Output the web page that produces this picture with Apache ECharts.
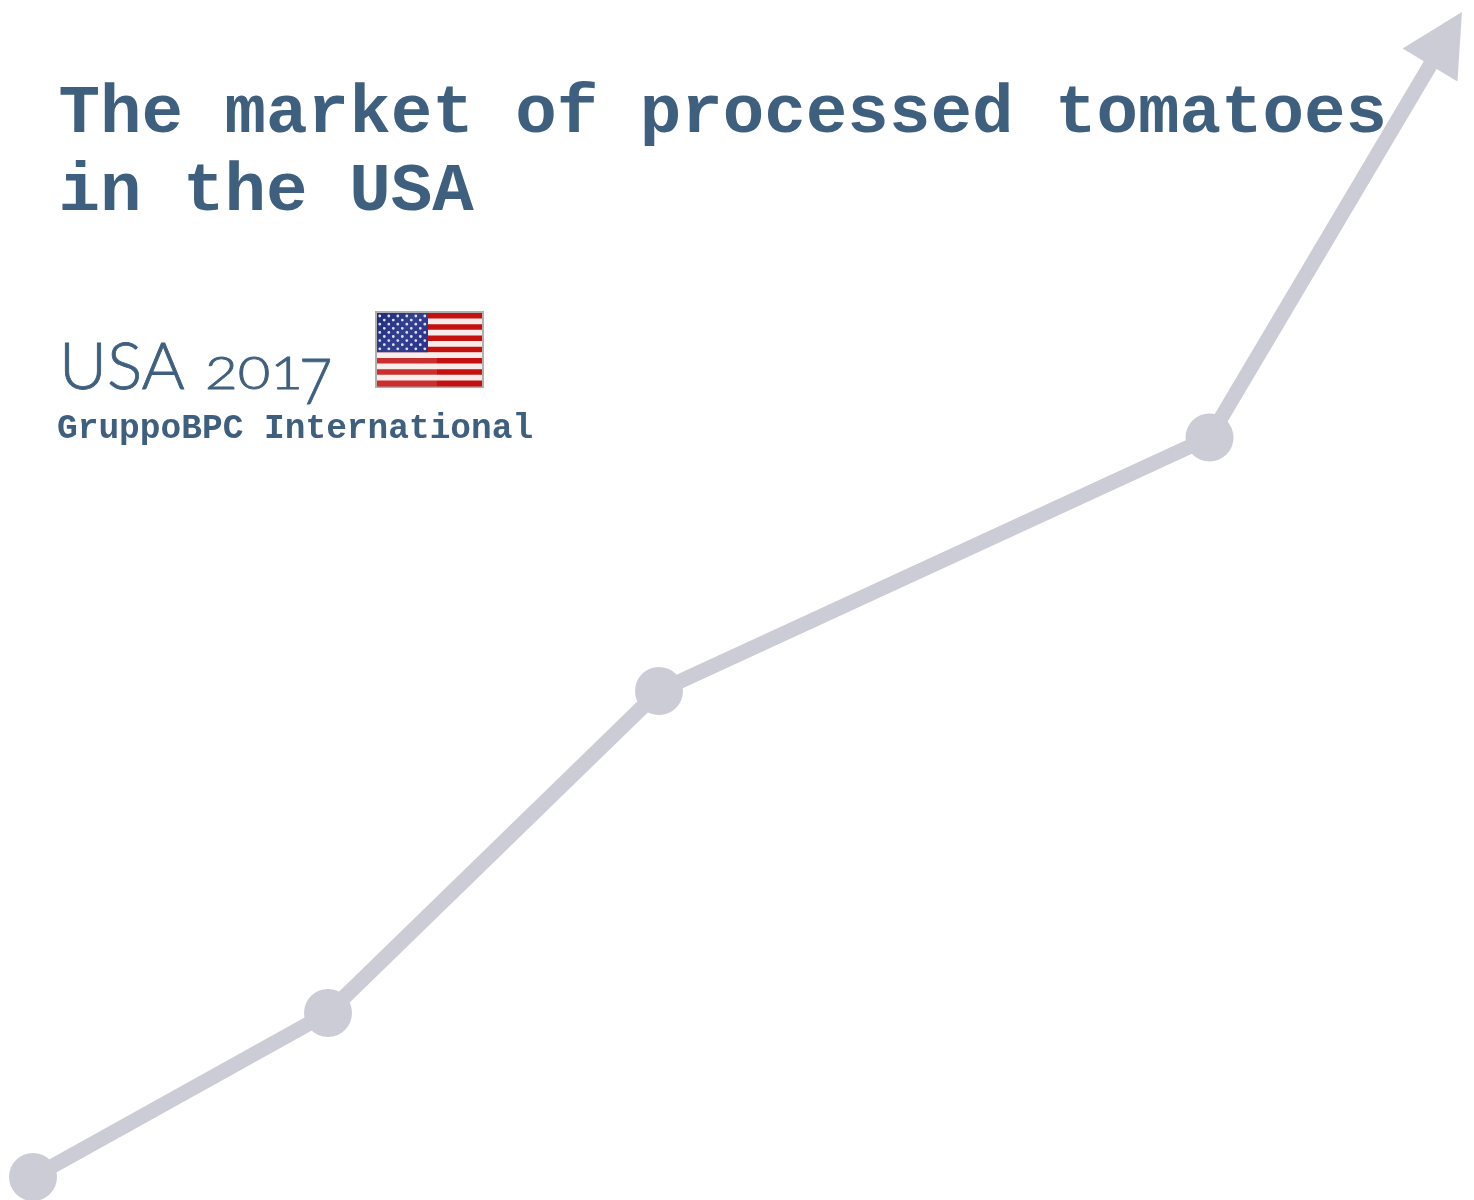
<!DOCTYPE html>
<html>
<head>
<meta charset="utf-8">
<title>The market of processed tomatoes in the USA</title>
<style>
  html, body { margin: 0; padding: 0; background: #fff; }
  #chart { width: 1474px; height: 1200px; }
</style>
<script src="https://cdn.jsdelivr.net/npm/echarts@6/dist/echarts.min.js"></script>
</head>
<body>
<div id="chart"></div>
<script>
// Growth line, in plot units
const trendX = [33, 328, 659, 1209.5, 1446];
const trendY = [23, 187, 509, 762.5, 1161.5];

const titleLines = ['The market of processed tomatoes', 'in the USA'];
const countryLabel = 'USA';
const yearDigits = '201';
const yearLastDigit = '7';
const publisher = 'GruppoBPC International';

const INK = '#3f5f7f';
const TREND = '#ccccd6';
const MONO = '"Liberation Mono", monospace';
const LIGHT = 'Lato, "Open Sans", sans-serif';

// Small flag drawn from rectangles and dots
function flagElements(x, y, w, h) {
  const els = [];
  const inner = { x: x + 2, y: y + 2, w: w - 4, h: h - 4 };
  const stripe = inner.h / 13;
  els.push({ type: 'rect', shape: { x, y, width: w, height: h }, style: { fill: '#b0b0b0' } });
  for (let i = 0; i < 13; i++) {
    els.push({
      type: 'rect',
      shape: { x: inner.x, y: inner.y + i * stripe, width: inner.w, height: stripe + 0.5 },
      style: { fill: i % 2 ? '#f8ecea' : '#c4100f' }
    });
  }
  const cantonW = 51, cantonH = stripe * 7;
  els.push({
    type: 'rect',
    shape: { x: inner.x, y: inner.y, width: cantonW, height: cantonH },
    style: {
      fill: {
        type: 'linear', x: 0, y: 0, x2: 1, y2: 1,
        colorStops: [
          { offset: 0, color: '#1e2a80' },
          { offset: 0.5, color: '#34408f' },
          { offset: 1, color: '#2a3288' }
        ]
      }
    }
  });
  for (let row = 0; row < 9; row++) {
    const count = row % 2 ? 5 : 6;
    const offset = row % 2 ? 1 : 0;
    for (let c = 0; c < count; c++) {
      els.push({
        type: 'circle',
        shape: {
          cx: inner.x + 2.8 + offset * 4.5 + c * 9,
          cy: inner.y + 3 + row * 4.1,
          r: 1.4
        },
        style: { fill: '#dfe2f4' }
      });
    }
  }
  // Gloss over the lower-left part of the flag
  els.push({
    type: 'rect',
    shape: { x: inner.x, y: inner.y + cantonH, width: 60, height: inner.h - cantonH },
    style: { fill: 'rgba(255,255,255,0.13)' }
  });
  return els;
}

function label(text, x, y, font, size, weight, extra) {
  const { scaleX, strokeWidth } = extra || {};
  return {
    type: 'text',
    x, y,
    scaleX: scaleX || 1,
    style: {
      text,
      fill: INK,
      stroke: strokeWidth ? INK : null,
      lineWidth: strokeWidth || 0,
      font: `${weight} ${size}px ${font}`,
      align: 'left',
      verticalAlign: 'middle'
    }
  };
}

const chart = echarts.init(document.getElementById('chart'), null, { renderer: 'canvas' });

chart.setOption({
  animation: false,
  backgroundColor: '#ffffff',
  grid: { left: 0, right: 0, top: 0, bottom: 0 },
  xAxis: { type: 'value', min: 0, max: 1474, show: false },
  yAxis: { type: 'value', min: 0, max: 1200, show: false },
  series: [{
    type: 'line',
    clip: false,
    silent: true,
    lineStyle: { color: TREND, width: 15, cap: 'butt', join: 'round' },
    itemStyle: { color: TREND, opacity: 1 },
    symbol: 'circle',
    symbolSize: 48,
    showAllSymbol: true,
    data: trendX.map((x, i) => {
      const point = { value: [x, trendY[i]] };
      if (i === trendX.length - 1) {
        point.symbol = 'triangle';
        point.symbolSize = [64, 62];
        point.symbolRotate = -31;
      }
      return point;
    })
  }],
  graphic: {
    elements: [
      label(titleLines[0], 58.5, 115, MONO, 69.2, 'bold'),
      label(titleLines[1], 58.5, 193, MONO, 69.2, 'bold'),
      label(countryLabel, 59, 368, LIGHT, 66, 300, { strokeWidth: 0.8 }),
      label(yearDigits, 205, 374, LIGHT, 45, 300, { scaleX: 1.25, strokeWidth: 0.8 }),
      label(yearLastDigit, 299, 383.5, LIGHT, 64, 300, { scaleX: 0.9, strokeWidth: 0.8 }),
      label(publisher, 57, 429, MONO, 34.5, 'bold'),
      ...flagElements(375, 311, 109, 77)
    ]
  }
});
</script>
</body>
</html>
